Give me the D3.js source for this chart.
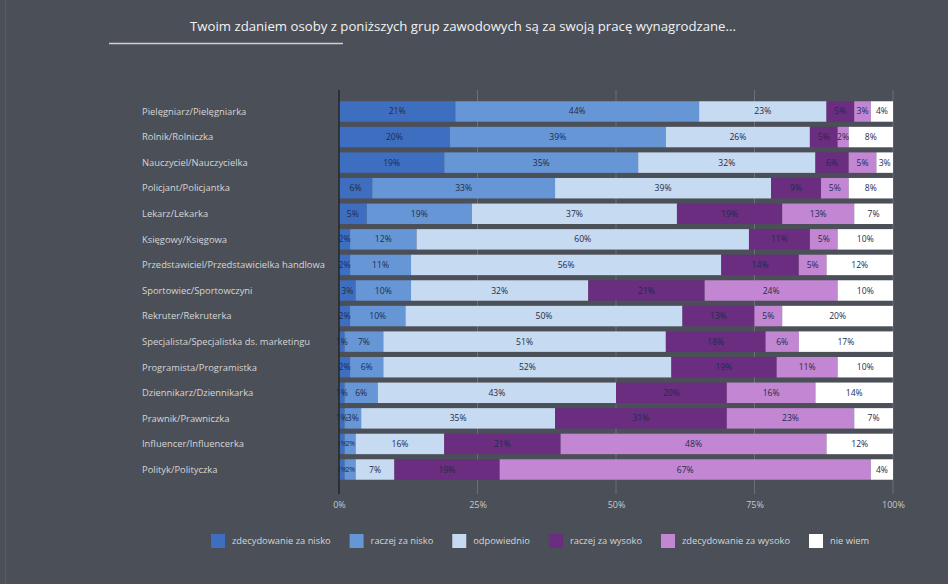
<!DOCTYPE html>
<html>
<head>
<meta charset="utf-8">
<script src="https://cdn.jsdelivr.net/npm/d3@7"></script>
<style>
  html, body { margin: 0; padding: 0; background: #4b4f57; }
  svg { display: block; }
</style>
</head>
<body>
<div id="chart"></div>
<script>
// Dane wykresu
const title = "Twoim zdaniem osoby z poniższych grup zawodowych są za swoją pracę wynagrodzane...";

const categories = [
    "Pielęgniarz/Pielęgniarka",
    "Rolnik/Rolniczka",
    "Nauczyciel/Nauczycielka",
    "Policjant/Policjantka",
    "Lekarz/Lekarka",
    "Księgowy/Księgowa",
    "Przedstawiciel/Przedstawicielka handlowa",
    "Sportowiec/Sportowczyni",
    "Rekruter/Rekruterka",
    "Specjalista/Specjalistka ds. marketingu",
    "Programista/Programistka",
    "Dziennikarz/Dziennikarka",
    "Prawnik/Prawniczka",
    "Influencer/Influencerka",
    "Polityk/Polityczka"
];

const seriesNames = [
    "zdecydowanie za nisko",
    "raczej za nisko",
    "odpowiednio",
    "raczej za wysoko",
    "zdecydowanie za wysoko",
    "nie wiem"
];

const zdecydowanieZaNisko = [21, 20, 19, 6, 5, 2, 2, 3, 2, 1, 2, 1, 1, 1, 1];
const raczejZaNisko       = [44, 39, 35, 33, 19, 12, 11, 10, 10, 7, 6, 6, 3, 2, 2];
const odpowiednio         = [23, 26, 32, 39, 37, 60, 56, 32, 50, 51, 52, 43, 35, 16, 7];
const raczejZaWysoko      = [5, 5, 6, 9, 19, 11, 14, 21, 13, 18, 19, 20, 31, 21, 19];
const zdecydowanieZaWysoko = [3, 2, 5, 5, 13, 5, 5, 24, 5, 6, 11, 16, 23, 48, 67];
const nieWiem             = [4, 8, 3, 8, 7, 10, 12, 10, 20, 17, 10, 14, 7, 12, 4];

const seriesValues = [zdecydowanieZaNisko, raczejZaNisko, odpowiednio, raczejZaWysoko, zdecydowanieZaWysoko, nieWiem];

const xTicks = [0, 25, 50, 75, 100];

const colors = ["#3e6ebf", "#6696d6", "#c6daf1", "#6a2d7f", "#c286d3", "#ffffff"];

// Wymiary
const W = 948, H = 584;
const fontFamily = "'Open Sans', 'Noto Sans', sans-serif";

const svg = d3.select("#chart").append("svg")
    .attr("width", W)
    .attr("height", H);

svg.append("rect")
    .attr("width", W).attr("height", H)
    .attr("fill", "#4b4f57");

// cienka linia przy lewej krawędzi
svg.append("line")
    .attr("x1", 5.5).attr("x2", 5.5)
    .attr("y1", 0).attr("y2", H)
    .attr("stroke", "#585c63")
    .attr("stroke-width", 1);

// Tytuł
svg.append("text")
    .attr("x", 463)
    .attr("y", 31)
    .attr("text-anchor", "middle")
    .attr("font-family", fontFamily)
    .attr("font-size", "13.2px")
    .attr("fill", "#f2f2f2")
    .text(title);

svg.append("line")
    .attr("x1", 109).attr("x2", 343)
    .attr("y1", 43.5).attr("y2", 43.5)
    .attr("stroke", "#d0d0d0")
    .attr("stroke-width", 1.5);

// Skale
const x = d3.scaleLinear()
    .domain([0, 100])
    .range([339, 893]);

const y = d3.scaleBand()
    .domain(categories)
    .range([98.7, 482.3])
    .paddingInner(0.2)
    .paddingOuter(0.1);

// Dane ułożone w stos
const table = categories.map((c, i) => {
    const row = { category: c };
    seriesNames.forEach((s, j) => { row[s] = seriesValues[j][i]; });
    return row;
});

const stacked = d3.stack().keys(seriesNames)(table);

// Linie siatki
svg.append("g")
    .selectAll("line")
    .data(xTicks.slice(1))
    .join("line")
    .attr("x1", d => x(d)).attr("x2", d => x(d))
    .attr("y1", 90).attr("y2", 494)
    .attr("stroke", "#6b6f76")
    .attr("stroke-width", 1);

// Słupki
const layer = svg.append("g")
    .selectAll("g")
    .data(stacked)
    .join("g")
    .attr("fill", (d, i) => colors[i]);

layer.selectAll("rect")
    .data(d => d)
    .join("rect")
    .attr("x", d => x(d[0]))
    .attr("y", d => y(d.data.category))
    .attr("width", d => x(d[1]) - x(d[0]))
    .attr("height", y.bandwidth());

// Czy segment jest wąski i sąsiaduje z innym wąskim segmentem
function isCrowded(s, r) {
    const v = seriesValues[s][r];
    if (v > 2) return false;
    const prev = s > 0 ? seriesValues[s - 1][r] : 99;
    const next = s < seriesValues.length - 1 ? seriesValues[s + 1][r] : 99;
    return prev <= 2 || next <= 2;
}

// Etykiety wartości
const labels = svg.append("g")
    .selectAll("g")
    .data(stacked)
    .join("g");

labels.selectAll("text")
    .data((d, s) => d.map((v, r) => ({ v: v, crowded: isCrowded(s, r) })))
    .join("text")
    .attr("x", d => (x(d.v[0]) + x(d.v[1])) / 2)
    .attr("y", d => y(d.v.data.category) + y.bandwidth() / 2)
    .attr("dy", "0.35em")
    .attr("text-anchor", "middle")
    .attr("font-family", fontFamily)
    .attr("font-size", d => d.crowded ? "7px" : "8.6px")
    .attr("letter-spacing", d => d.crowded ? "-0.4px" : null)
    .attr("fill", "#1f2c4c")
    .text(d => (d.v[1] - d.v[0]) + "%");

// Oś Y (linia)
svg.append("line")
    .attr("x1", x(0)).attr("x2", x(0))
    .attr("y1", 90).attr("y2", 494)
    .attr("stroke", "#222428")
    .attr("stroke-width", 1.5);

// Etykiety kategorii
svg.append("g")
    .selectAll("text")
    .data(categories)
    .join("text")
    .attr("x", 142)
    .attr("y", d => y(d) + y.bandwidth() / 2)
    .attr("dy", "0.35em")
    .attr("font-family", fontFamily)
    .attr("font-size", "9.4px")
    .attr("fill", "#d6d6d6")
    .text(d => d);

// Oś X
const xAxis = svg.append("g")
    .attr("transform", "translate(0, 494)")
    .call(d3.axisBottom(x).tickValues(xTicks).tickFormat(d => d + "%").tickSize(0).tickPadding(8));

xAxis.select(".domain").remove();
xAxis.selectAll("text")
    .attr("font-family", fontFamily)
    .attr("font-size", "9px")
    .attr("fill", "#c8c8c8");

// Legenda
const legend = svg.append("g").attr("transform", "translate(211, 534)");
let lx = 0;
seriesNames.forEach((s, i) => {
    const g = legend.append("g").attr("transform", `translate(${lx}, 0)`);
    g.append("rect")
        .attr("width", 14).attr("height", 14)
        .attr("fill", colors[i]);
    const t = g.append("text")
        .attr("x", 21)
        .attr("y", 7)
        .attr("dy", "0.35em")
        .attr("font-family", fontFamily)
        .attr("font-size", "9.3px")
        .attr("fill", "#d6d6d6")
        .text(s);
    lx += 21 + t.node().getComputedTextLength() + 19;
});
</script>
</body>
</html>
